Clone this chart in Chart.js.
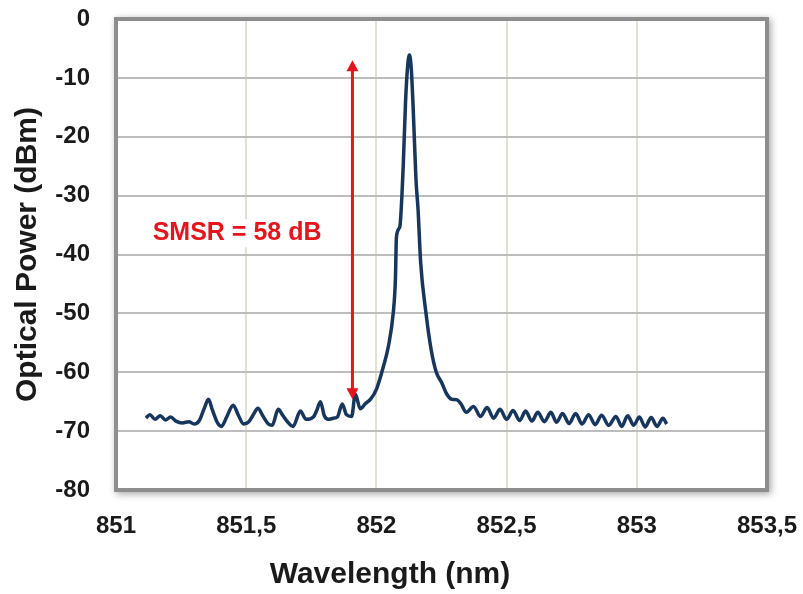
<!DOCTYPE html>
<html>
<head>
<meta charset="utf-8">
<script src="https://cdn.jsdelivr.net/npm/chart.js@4.4.1/dist/chart.umd.min.js"></script>
<style>
  html, body { margin: 0; padding: 0; background: #fff; }
  #wrap { width: 803px; height: 594px; }
</style>
</head>
<body>
<div id="wrap"><canvas id="spectrum" width="803" height="594"></canvas></div>
<script>
// wavelength (nm) and optical power (dBm)
const wavelengths = [
  851.115, 851.13, 851.15, 851.17, 851.19, 851.21, 851.23, 851.255, 851.28, 851.30,
  851.32, 851.34, 851.355, 851.37, 851.39, 851.405, 851.425, 851.45, 851.47, 851.49,
  851.51, 851.53, 851.545, 851.565, 851.585, 851.60, 851.623, 851.64, 851.66, 851.68,
  851.708, 851.73, 851.758, 851.77, 851.785, 851.80, 851.815, 851.835, 851.85, 851.869,
  851.885, 851.905, 851.919, 851.938, 851.958, 851.977, 852.0, 852.027, 852.046, 852.065,
  852.073, 852.077, 852.09, 852.098, 852.103, 852.112, 852.12, 852.127, 852.134, 852.142,
  852.152, 852.16, 852.17, 852.19, 852.21, 852.23, 852.25, 852.27, 852.29, 852.31,
  852.325, 852.345, 852.373, 852.40, 852.425, 852.45, 852.475, 852.50, 852.525, 852.55,
  852.573, 852.597, 852.62, 852.645, 852.67, 852.692, 852.715, 852.74, 852.765, 852.79,
  852.815, 852.84, 852.865, 852.892, 852.92, 852.942, 852.965, 852.988, 853.01, 853.032,
  853.055, 853.078, 853.10, 853.115
];
const powers = [
  -67.8, -67.2, -68.0, -67.4, -68.1, -67.6, -68.3, -68.6, -68.4, -68.8,
  -68.2, -66.0, -64.6, -66.4, -68.6, -69.2, -67.6, -65.6, -67.3, -68.8,
  -68.4, -67.0, -66.1, -67.5, -68.8, -69.0, -66.3, -67.3, -68.5, -69.2,
  -66.6, -68.0, -67.6, -66.6, -65.0, -67.4, -68.0, -67.8, -67.6, -65.4,
  -67.2, -67.5, -63.7, -66.2, -65.3, -64.6, -62.9, -59.0, -55.6, -49.8,
  -44.2, -37.0, -35.3, -30.0, -25.0, -14.0, -8.0, -6.1, -8.5, -16.0,
  -27.3, -32.4, -41.4, -49.8, -56.1, -60.0, -61.7, -63.7, -64.6, -64.7,
  -65.4, -66.8, -65.8, -67.5, -66.0, -67.8, -66.3, -68.0, -66.5, -68.2,
  -66.6, -68.3, -66.8, -68.4, -66.8, -68.5, -67.0, -68.7, -67.0, -68.8,
  -67.2, -68.9, -67.3, -69.0, -67.5, -69.2, -67.4, -69.0, -67.6, -69.3,
  -67.7, -69.2, -67.8, -68.8
];

// SMSR annotation
const arrowX = 851.908;
const arrowTop = -7;
const arrowBottom = -64.6;
const smsrLabel = 'SMSR = 58 dB';
const smsrX = 851.465;
const smsrY = -36.4;

const xTitle = 'Wavelength (nm)';
const yTitle = 'Optical Power (dBm)';

const points = wavelengths.map((w, i) => ({ x: w, y: powers[i] }));

// white plot box with soft shadow, then grey frame over the grid
const framePlugin = {
    id: 'frame',
    beforeDraw(chart) {
        const { ctx, chartArea: a } = chart;
        ctx.save();
        ctx.shadowColor = 'rgba(0,0,0,0.35)';
        ctx.shadowBlur = 7;
        ctx.shadowOffsetX = 2;
        ctx.shadowOffsetY = 2;
        ctx.fillStyle = '#fff';
        ctx.fillRect(a.left - 2, a.top - 2, a.width + 4, a.height + 4);
        ctx.restore();
    },
    beforeDatasetsDraw(chart) {
        const { ctx, chartArea: a } = chart;
        ctx.save();
        ctx.strokeStyle = '#8e8e8e';
        ctx.lineWidth = 4;
        ctx.strokeRect(a.left, a.top, a.width, a.height);
        ctx.restore();
    }
};

const annotationPlugin = {
    id: 'smsr',
    afterDatasetsDraw(chart) {
        const { ctx, scales: { x, y } } = chart;
        const px = x.getPixelForValue(arrowX);
        const top = y.getPixelForValue(arrowTop);
        const bottom = y.getPixelForValue(arrowBottom);
        const head = 11;
        ctx.save();
        ctx.strokeStyle = '#e8141b';
        ctx.fillStyle = '#e8141b';
        ctx.lineWidth = 3;
        ctx.beginPath();
        ctx.moveTo(px, top + head - 2);
        ctx.lineTo(px, bottom - head + 2);
        ctx.stroke();
        ctx.beginPath();
        ctx.moveTo(px, top);
        ctx.lineTo(px - 6, top + head);
        ctx.lineTo(px + 6, top + head);
        ctx.closePath();
        ctx.fill();
        ctx.beginPath();
        ctx.moveTo(px, bottom);
        ctx.lineTo(px - 6, bottom - head);
        ctx.lineTo(px + 6, bottom - head);
        ctx.closePath();
        ctx.fill();

        const lx = x.getPixelForValue(smsrX);
        const ly = y.getPixelForValue(smsrY);
        ctx.font = 'bold 25px "Liberation Sans", Arial, sans-serif';
        ctx.textAlign = 'center';
        ctx.textBaseline = 'middle';
        const w = ctx.measureText(smsrLabel).width;
        ctx.fillStyle = '#fff';
        ctx.fillRect(lx - w / 2 - 3, ly - 14, w + 6, 28);
        ctx.fillStyle = '#e8141b';
        ctx.fillText(smsrLabel, lx, ly);
        ctx.restore();
    },
    afterDraw(chart) {
        const { ctx } = chart;
        ctx.save();
        ctx.font = 'bold 30px "Liberation Sans", Arial, sans-serif';
        ctx.fillStyle = '#1a1a1a';
        ctx.textAlign = 'center';
        ctx.textBaseline = 'middle';
        ctx.fillText(xTitle, 390, 575);
        ctx.restore();
    }
};

const createSpectrumChart = () => {
    const ctx = document.getElementById('spectrum').getContext('2d');
    const tickFont = { family: '"Liberation Sans", Arial, sans-serif', size: 24, weight: 'bold' };

    new Chart(ctx, {
        type: 'line',
        data: {
            datasets: [{
                data: points,
                borderColor: '#17365d',
                borderWidth: 3.5,
                pointRadius: 0,
                fill: false,
                cubicInterpolationMode: 'monotone'
            }]
        },
        options: {
            responsive: false,
            animation: false,
            layout: { padding: { top: 19, right: 36, left: 0, bottom: 0 } },
            scales: {
                x: {
                    type: 'linear',
                    min: 851,
                    max: 853.5,
                    afterFit: scale => {
                        scale.height = 104;
                        scale.paddingLeft = 0;
                        scale.paddingRight = 0;
                    },
                    ticks: {
                        stepSize: 0.5,
                        color: '#1a1a1a',
                        font: tickFont,
                        padding: 22,
                        maxRotation: 0,
                        callback: v => String(v).replace('.', ',')
                    },
                    grid: { color: '#e4e0cf', lineWidth: 2, drawTicks: false },
                    border: { display: false }
                },
                y: {
                    min: -80,
                    max: 0,
                    afterFit: scale => {
                        scale.width = 116;
                        scale.paddingTop = 0;
                        scale.paddingBottom = 0;
                    },
                    ticks: {
                        stepSize: 10,
                        color: '#1a1a1a',
                        font: tickFont,
                        padding: 26
                    },
                    grid: { color: '#bdbdbd', lineWidth: 2, drawTicks: false },
                    border: { display: false },
                    title: {
                        display: true,
                        text: yTitle,
                        color: '#1a1a1a',
                        font: { family: '"Liberation Sans", Arial, sans-serif', size: 30, weight: 'bold' },
                        padding: { top: 10, bottom: 0 }
                    }
                }
            },
            plugins: {
                legend: { display: false },
                tooltip: { enabled: false }
            }
        },
        plugins: [framePlugin, annotationPlugin]
    });
};

createSpectrumChart();
</script>
</body>
</html>
